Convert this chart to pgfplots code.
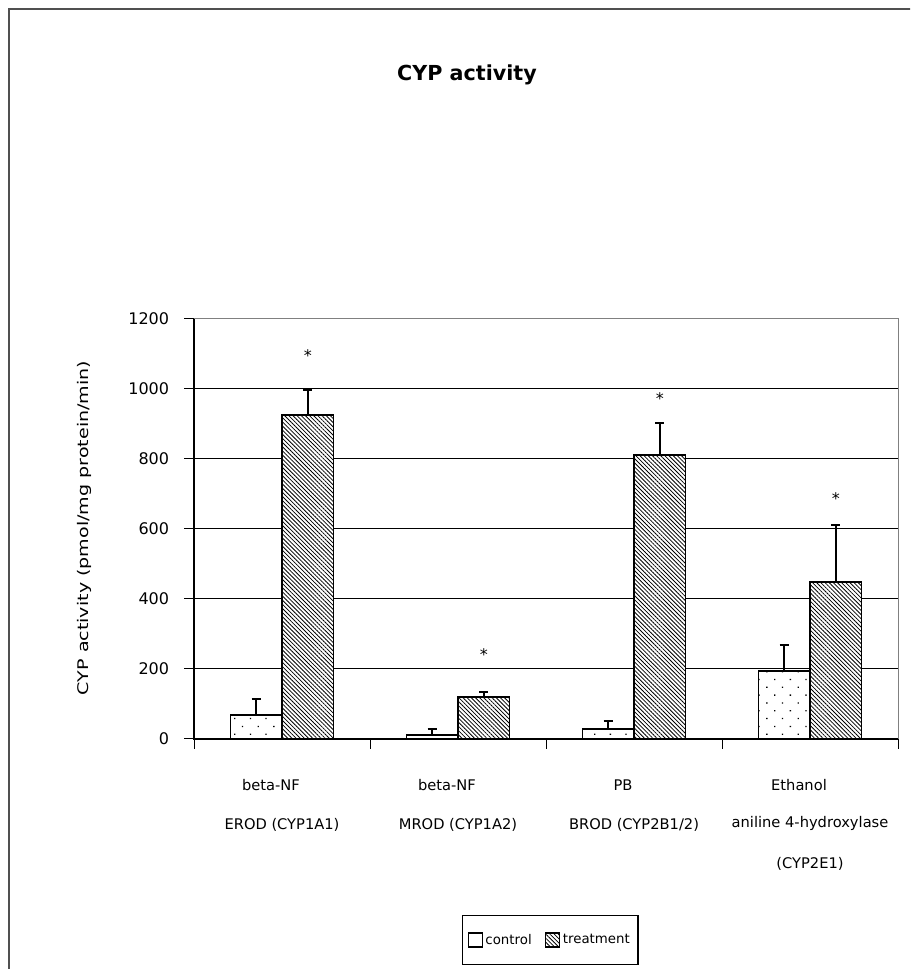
\documentclass[border=0pt]{standalone}
\usepackage{fontspec}
\setmainfont{DejaVu Sans}
\usepackage{pgfplots}
\pgfplotsset{compat=1.18}
\usepackage{pgfplotstable}
\usetikzlibrary{patterns.meta}

% mean activity and SD (upper error only); x is the bar centre
\pgfplotstableread{
x       y    err
0.3535  69   45
1.3535  11   18
2.3535  29   22
3.3535  194  75
}\controldata
\pgfplotstableread{
x       y    err
0.6465  926  71
1.6465  120  14
2.6465  811  92
3.6465  449  162
}\treatmentdata
% significance markers (top of asterisk)
\pgfplotstableread{
x       y
0.6465  1114
1.6465  260
2.6465  989
3.6465  706
}\stardata

\tikzset{
  ctrlfill/.style={fill=white, postaction={pattern={Dots[angle=45, distance=8.3pt, radius=0.7pt]}}},
  trtfill/.style={fill=white, postaction={pattern={Lines[angle=-45, distance=2.2pt, line width=0.6pt]}}},
}

\begin{document}
\begin{tikzpicture}
\path[use as bounding box] (0,0) rectangle (682.5pt,726.75pt);
\clip (0,0) rectangle (682.5pt,726.75pt);

% outer frame
\draw[line width=2pt, color={rgb,255:red,80;green,80;blue,80}]
  (6.75pt,-10pt) -- (6.75pt,720pt) -- (700pt,720pt);

% title
\node[font=\fontsize{15.5}{18}\selectfont\bfseries] at (350.25pt,670.5pt) {CYP activity};

% y label
\node[rotate=90, inner sep=0pt] at (63pt,330.75pt)
  {\scalebox{1.3}[1]{\fontsize{11}{12}\selectfont CYP activity (pmol/mg protein/min)}};

\begin{axis}[
  scale only axis,
  width=528pt, height=315pt,
  at={(145.5pt,172.5pt)}, anchor=south west,
  xmin=0, xmax=4, ymin=0, ymax=1200,
  clip=false,
  axis line style={draw=none},
  ytick={0,200,...,1200},
  xtick={0,1,2,3,4}, xticklabels={},
  xtick pos=bottom, ytick pos=left,
  ymajorgrids,
  grid style={black, line width=0.75pt},
  tick align=outside,
  major tick length=7.5pt,
  tick style={black, line width=0.75pt},
  /pgf/number format/assume math mode=true,
  /pgf/number format/1000 sep={},
  yticklabel style={font=\fontsize{12}{13}\selectfont, anchor=east, inner sep=0pt, xshift=-11pt},
  legend image code/.code={\draw[line width=0.9pt,#1] (0pt,-5.25pt) rectangle (10.5pt,5.25pt);},
  legend style={
    at={(0.5057,-0.4786)}, anchor=center,
    legend columns=2,
    draw=black, line width=1.1pt,
    font=\fontsize{10}{11}\selectfont,
    inner xsep=4pt, inner ysep=12pt,
    /tikz/every even column/.append style={column sep=8pt},
  },
  legend cell align=left,
]

\addlegendimage{fill=white}
\addlegendentry{control}
\addlegendimage{trtfill}
\addlegendentry{treatment}

\addplot[ybar, bar width=0.293, bar shift=0, draw=black, line width=1pt, ctrlfill,
  error bars/.cd, y dir=plus, y explicit,
  error bar style={black, line width=1.1pt},
  error mark options={black, line width=1.1pt, mark size=3.4pt, rotate=90}]
  table[x=x, y=y, y error=err] {\controldata};

\addplot[ybar, bar width=0.293, bar shift=0, draw=black, line width=1pt, trtfill,
  error bars/.cd, y dir=plus, y explicit,
  error bar style={black, line width=1.1pt},
  error mark options={black, line width=1.1pt, mark size=3.4pt, rotate=90}]
  table[x=x, y=y, y error=err] {\treatmentdata};

\addplot[draw=none, mark=none, nodes near coords={*},
  every node near coord/.append style={anchor=north, inner sep=0pt, font=\fontsize{12}{12}\selectfont}]
  table[x=x, y=y] {\stardata};

% plot area border
\draw[gray, line width=0.75pt] (rel axis cs:0,1) -- (rel axis cs:1,1) -- (rel axis cs:1,0);
\draw[black, line width=0.9pt] (rel axis cs:0,1) -- (rel axis cs:0,0) -- (rel axis cs:1,0);

% category labels
\begin{scope}[font=\fontsize{11}{12}\selectfont, inner sep=0pt]
\node[anchor=base, xshift=-8.25pt, yshift=-39pt] at (axis cs:0.5,0) {beta-NF};
\node[anchor=base, yshift=-67.5pt] at (axis cs:0.5,0) {EROD (CYP1A1)};
\node[anchor=base, xshift=-8.25pt, yshift=-39pt] at (axis cs:1.5,0) {beta-NF};
\node[anchor=base, yshift=-67.5pt] at (axis cs:1.5,0) {MROD (CYP1A2)};
\node[anchor=base, xshift=-8.25pt, yshift=-39pt] at (axis cs:2.5,0) {PB};
\node[anchor=base, yshift=-67.5pt] at (axis cs:2.5,0) {BROD (CYP2B1/2)};
\node[anchor=base, xshift=-8.25pt, yshift=-39pt] at (axis cs:3.5,0) {Ethanol};
\node[anchor=base, yshift=-66.75pt] at (axis cs:3.5,0) {aniline 4-hydroxylase};
\node[anchor=base, yshift=-96.75pt] at (axis cs:3.5,0) {(CYP2E1)};
\end{scope}
\end{axis}
\end{tikzpicture}
\end{document}
